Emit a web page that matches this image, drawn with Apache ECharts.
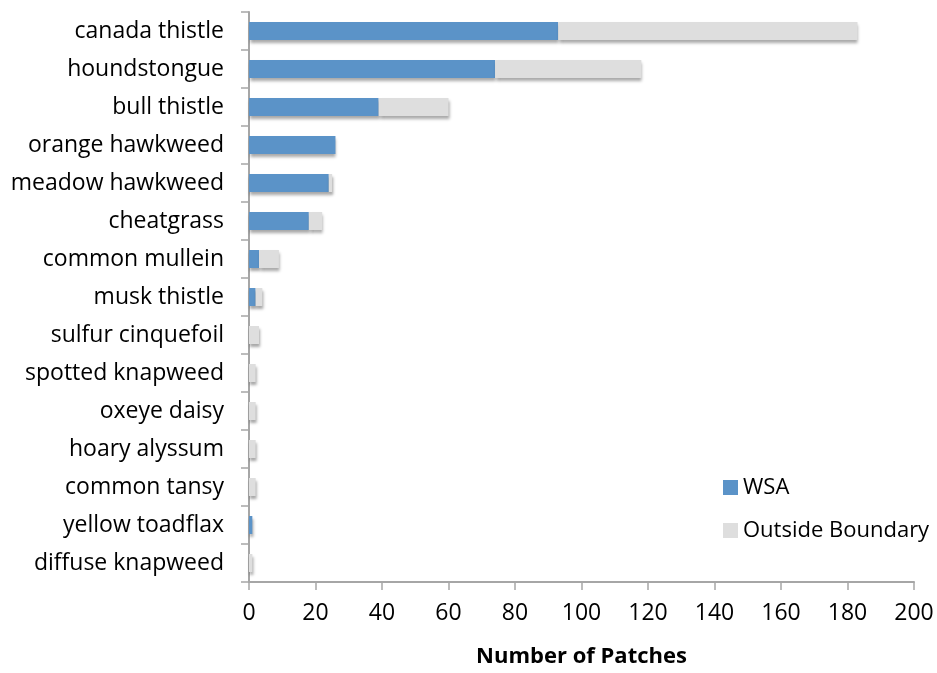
<!DOCTYPE html>
<html>
<head>
<meta charset="utf-8">
<script src="https://cdn.jsdelivr.net/npm/echarts@6/dist/echarts.min.js"></script>
<style>
  html, body { margin: 0; padding: 0; background: #fff; }
  #chart { width: 937px; height: 673px; }
</style>
</head>
<body>
<div id="chart"></div>
<script>
const species = [
  'canada thistle', 'houndstongue', 'bull thistle', 'orange hawkweed',
  'meadow hawkweed', 'cheatgrass', 'common mullein', 'musk thistle',
  'sulfur cinquefoil', 'spotted knapweed', 'oxeye daisy', 'hoary alyssum',
  'common tansy', 'yellow toadflax', 'diffuse knapweed'
]
// patches inside the WSA
const wsa = [93, 74, 39, 26, 24, 18, 3, 2, 0, 0, 0, 0, 0, 1, 0]
// patches outside the boundary (stacked on top of WSA)
const outside = [90, 44, 21, 0, 1, 4, 6, 2, 3, 2, 2, 2, 2, 0, 1]

const font = 'Open Sans'
const barShadow = {
  shadowColor: 'rgba(0,0,0,0.35)',
  shadowBlur: 3,
  shadowOffsetY: 3,
  shadowOffsetX: 1,
}

let option = {
  animation: false,
  backgroundColor: '#fff',
  textStyle: { fontFamily: font },
  legend: {
    orient: 'vertical',
    left: 718,
    top: 471,
    itemWidth: 15,
    itemHeight: 15,
    itemGap: 20,
    icon: 'rect',
    textStyle: { fontSize: 22, lineHeight: 23, color: '#000', fontFamily: font },
    data: ['WSA', 'Outside Boundary'],
  },
  grid: {
    left: 249,
    right: 23,
    top: 12,
    bottom: 86,
  },
  xAxis: {
    type: 'value',
    min: 0,
    max: 200,
    interval: 20,
    name: 'Number of Patches',
    nameLocation: 'middle',
    nameGap: 64,
    nameTextStyle: { fontSize: 22, fontWeight: 'bold', color: '#000', fontFamily: font },
    axisLine: { show: true, lineStyle: { color: '#a6a6a6', width: 2 } },
    axisTick: { show: true, length: 8, lineStyle: { color: '#a6a6a6', width: 1.5 } },
    axisLabel: { fontSize: 23, color: '#000', margin: 20, fontFamily: font },
    splitLine: { show: false },
  },
  yAxis: {
    type: 'category',
    data: species,
    inverse: true,
    axisLine: { show: true, lineStyle: { color: '#a6a6a6', width: 2 } },
    axisTick: { show: true, length: 8, lineStyle: { color: '#a6a6a6', width: 1.5 } },
    axisLabel: { fontSize: 23, color: '#000', margin: 25, fontFamily: font },
    splitLine: { show: false },
  },
  series: [
    {
      name: 'WSA',
      type: 'bar',
      stack: 'total',
      barWidth: 18,
      data: wsa,
      itemStyle: Object.assign({ color: '#5b93c8' }, barShadow),
    },
    {
      name: 'Outside Boundary',
      type: 'bar',
      stack: 'total',
      barWidth: 18,
      data: outside,
      itemStyle: Object.assign({ color: '#dedede' }, barShadow),
    },
  ],
}

const myChart = echarts.init(document.getElementById('chart'))
myChart.setOption(option)
</script>
</body>
</html>
